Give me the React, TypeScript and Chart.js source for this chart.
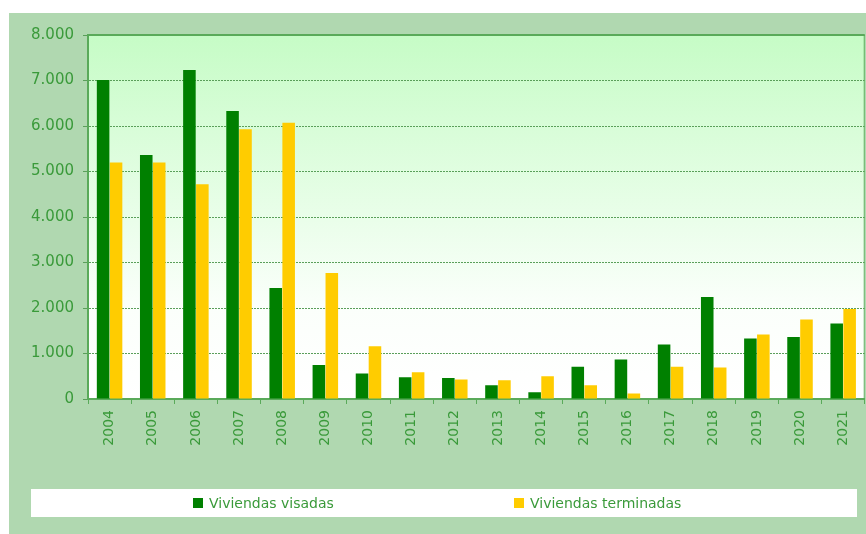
import React, { useEffect, useRef } from "react";
import { Chart, registerables } from "chart.js";

Chart.register(...registerables);

const years = ["2004", "2005", "2006", "2007", "2008", "2009", "2010", "2011", "2012", "2013", "2014", "2015", "2016", "2017", "2018", "2019", "2020", "2021"];
const visadas = [7010, 5360, 7230, 6330, 2440, 750, 560, 480, 460, 300, 150, 710, 870, 1200, 2240, 1330, 1360, 1660];
const terminadas = [5200, 5200, 4720, 5930, 6070, 2770, 1160, 590, 430, 410, 500, 300, 120, 710, 690, 1420, 1750, 1980];
const seriesLabels = ["Viviendas visadas", "Viviendas terminadas"];
const seriesColors = ["#008000", "#ffcc00"];

const PANEL = "#b0d8b0";
const TEXT = "#3a9a3a";
const AXIS = "#5aaa5a";

const fmt = (v: number) => String(v).replace(/\B(?=(\d{3})+(?!\d))/g, ".");

export default function App() {
  const ref = useRef<HTMLCanvasElement>(null);
  useEffect(() => {
    const bgPlugin = {
      id: "bg",
      beforeDraw(chart: any) {
        const { ctx, chartArea: a } = chart;
        ctx.save();
        ctx.fillStyle = "#ffffff";
        ctx.fillRect(0, 0, chart.width, chart.height);
        ctx.fillStyle = PANEL;
        ctx.fillRect(9, 13, chart.width - 9, chart.height - 13);
        const g = ctx.createLinearGradient(0, a.top, 0, a.bottom);
        g.addColorStop(0, "#c6fcc6");
        g.addColorStop(0.75, "#fbfffb");
        g.addColorStop(1, "#ffffff");
        ctx.fillStyle = g;
        ctx.fillRect(a.left, a.top, a.right - a.left, a.bottom - a.top);
        ctx.restore();
      },
      afterDraw(chart: any) {
        const { ctx, chartArea: a } = chart;
        ctx.save();
        ctx.setLineDash([]);
        ctx.strokeStyle = AXIS;
        ctx.lineWidth = 2;
        ctx.beginPath();
        ctx.moveTo(a.left, a.top);
        ctx.lineTo(a.right, a.top);
        ctx.moveTo(a.left, a.top);
        ctx.lineTo(a.left, a.bottom);
        ctx.stroke();
        ctx.lineWidth = 1;
        ctx.beginPath();
        ctx.moveTo(a.right - 0.5, a.top);
        ctx.lineTo(a.right - 0.5, a.bottom);
        ctx.stroke();
        // legend
        ctx.fillStyle = "#ffffff";
        ctx.fillRect(31, 489, 826, 28);
        ctx.font = "14px 'DejaVu Sans'";
        ctx.textBaseline = "middle";
        const xs = [193, 514];
        seriesLabels.forEach((l, i) => {
          ctx.fillStyle = seriesColors[i];
          ctx.fillRect(xs[i], 498, 10, 10);
          ctx.fillStyle = TEXT;
          ctx.fillText(l, xs[i] + 16, 504);
        });
        ctx.restore();
      },
    };
    const chart = new Chart(ref.current!, {
      type: "bar",
      data: {
        labels: years,
        datasets: [
          { label: seriesLabels[0], data: visadas, backgroundColor: seriesColors[0], categoryPercentage: 0.6, barPercentage: 0.97 },
          { label: seriesLabels[1], data: terminadas, backgroundColor: seriesColors[1], categoryPercentage: 0.6, barPercentage: 0.97 },
        ],
      },
      options: {
        animation: false,
        responsive: false,
        layout: { padding: { top: 35, right: 1, left: 0, bottom: 0 } },
        plugins: { legend: { display: false }, tooltip: { enabled: false } },
        scales: {
          x: {
            afterFit: (s: any) => { s.height = 135; },
            grid: { drawOnChartArea: false, drawTicks: true, tickLength: 5, color: AXIS, offset: true },
            border: { color: AXIS, width: 2 },
            ticks: { color: TEXT, font: { family: "DejaVu Sans", size: 14 }, minRotation: 90, maxRotation: 90, padding: 6 },
          },
          y: {
            min: 0,
            max: 8000,
            afterFit: (s: any) => { s.width = 88; },
            grid: { color: "#5a9f5a", tickLength: 5, drawTicks: true, tickBorderDash: [] },
            border: { color: AXIS, width: 2, dash: [2, 1] },
            ticks: { stepSize: 1000, color: TEXT, font: { family: "DejaVu Sans", size: 15 }, padding: 9, callback: (v: any) => fmt(Number(v)) },
          },
        },
      },
      plugins: [bgPlugin],
    });
    return () => chart.destroy();
  }, []);
  return (
    <div style={{ position: "absolute", left: 0, top: 0, width: 866, height: 534 }}>
      <canvas ref={ref} width={866} height={534} style={{ display: "block" }} />
    </div>
  );
}
